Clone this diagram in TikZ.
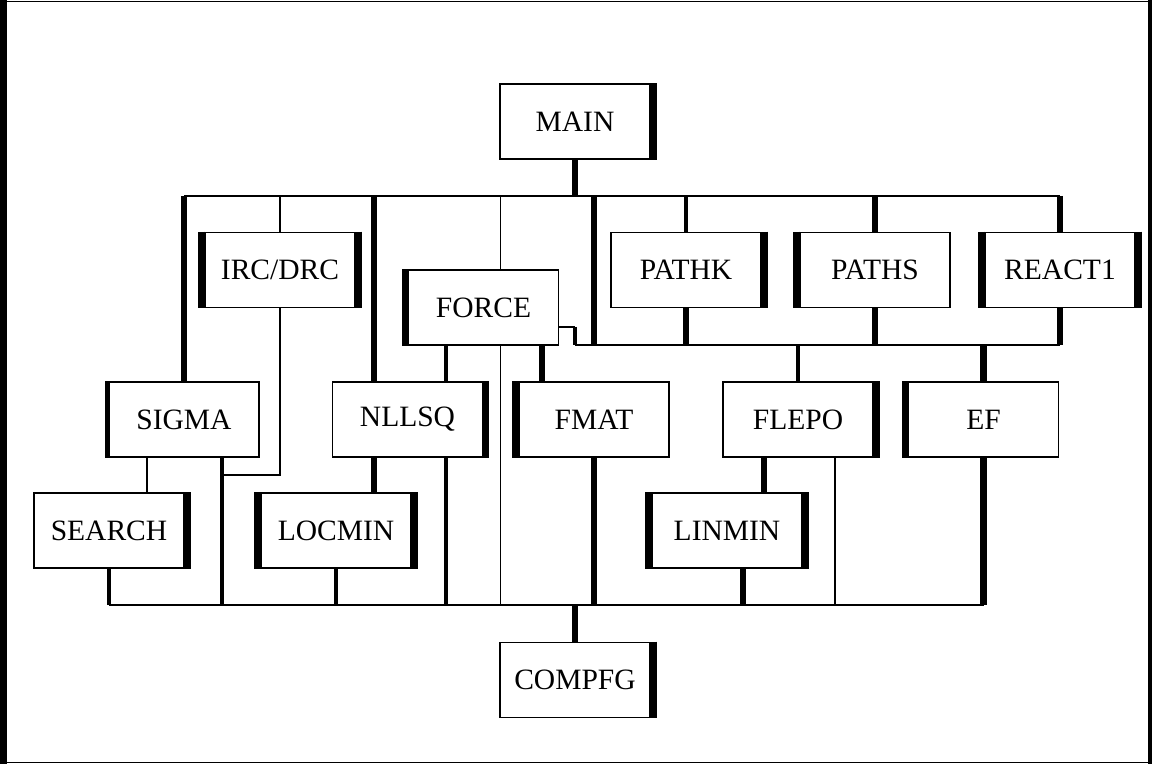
\documentclass[tikz,border=0pt]{standalone}
\usepackage{fontspec}
\setmainfont{Liberation Serif}
\usepackage{tikz}

\begin{document}
\begin{tikzpicture}[
    box/.style={draw, line width=1.1pt, minimum width=3cm, minimum height=1.5cm,
      inner sep=0pt, font=\fontsize{16.8}{18}\selectfont},
    bar/.style={line width=3.6pt},
    link/.style={line width=1.1pt},
    link2/.style={line width=2pt},
    link3/.style={line width=3.6pt}]
  \useasboundingbox (0,0) rectangle (23.12,15.28);

  % frame
  \draw[line width=1.1pt] (0,15.25) -- (23.0,15.25);
  \draw[line width=1.1pt] (0,0.03) -- (23.0,0.03);
  \draw[line width=4pt] (0.07,0) -- (0.07,15.28);
  \draw[line width=2.3pt] (23.0,0) -- (23.0,15.28);

  % routines
  \node[box] (main)   at (11.50,12.85) {MAIN};
  \node[box] (irc)    at (5.60,9.88)   {IRC/DRC};
  \node[box] (force)  at (9.67,9.13)   {FORCE};
  \node[box] (pathk)  at (13.72,9.88)  {PATHK};
  \node[box] (paths)  at (17.50,9.88)  {PATHS};
  \node[box] (react)  at (21.20,9.88)  {REACT1};
  \node[box] (sigma)  at (3.68,6.89)   {SIGMA};
  \node[box] (nllsq)  at (8.15,6.89)   {NLLSQ};
  \node[box] (fmat)   at (11.88,6.89)  {FMAT};
  \node[box] (flepo)  at (15.96,6.89)  {FLEPO};
  \node[box] (ef)     at (19.67,6.89)  {EF};
  \node[box] (search) at (2.18,4.67)   {SEARCH};
  \node[box] (locmin) at (6.72,4.67)   {LOCMIN};
  \node[box] (linmin) at (14.54,4.67)  {LINMIN};
  \node[box] (compfg) at (11.50,1.68)  {COMPFG};

  % heavy sides
  \foreach \n in {main,irc,pathk,react,nllsq,flepo,search,locmin,linmin,compfg}
    \draw[bar] ([xshift=0.05cm]\n.north east) -- ([xshift=0.05cm]\n.south east);
  \foreach \n in {irc,force,paths,react,fmat,ef,locmin,linmin}
    \draw[bar] ([xshift=-0.05cm]\n.north west) -- ([xshift=-0.05cm]\n.south west);
  \draw[link2] ([xshift=-0.03cm]sigma.north west) -- ([xshift=-0.03cm]sigma.south west);

  % bus levels
  \coordinate (tbus) at (11.5,11.36);
  \coordinate (rbus) at (11.5,8.38);
  \coordinate (bbus) at (11.5,3.18);

  % top bus
  \draw[link3] (main.south) -- (main.south |- tbus);
  \draw[link] (sigma.north |- tbus) -- (react.north |- tbus);
  \draw[link3] (sigma.north |- tbus) -- (sigma.north);
  \draw[link] (irc.north |- tbus) -- (irc.north);
  \draw[link3] ([xshift=-0.67cm]nllsq.north |- tbus) -- ([xshift=-0.67cm]nllsq.north);
  \draw[link] ([xshift=0.34cm]force.north |- tbus) -- ([xshift=0.34cm]force.north);
  \draw[link3] (fmat.north |- tbus) -- (fmat.north |- rbus);
  \draw[link2] (pathk.north |- tbus) -- (pathk.north);
  \draw[link3] (paths.north |- tbus) -- (paths.north);
  \draw[link3] (react.north |- tbus) -- (react.north);

  % right bus
  \draw[link] ([yshift=-0.39cm]force.east) -- ([yshift=-0.39cm]force.east -| main.south);
  \draw[link2] ([yshift=-0.39cm]force.east -| main.south) -- (main.south |- rbus);
  \draw[link] (main.south |- rbus) -- (react.south |- rbus);
  \draw[link3] (pathk.south) -- (pathk.south |- rbus);
  \draw[link3] (paths.south) -- (paths.south |- rbus);
  \draw[link3] (react.south) -- (react.south |- rbus);
  \draw[link2] (flepo.north |- rbus) -- (flepo.north);
  \draw[link3] (ef.north |- rbus) -- (ef.north);

  % below FORCE
  \draw[link2] ([xshift=-0.75cm]force.south) -- ([xshift=-0.75cm]force.south |- nllsq.north);
  \draw[link] ([xshift=0.34cm]force.south) -- ([xshift=0.34cm]force.south |- bbus);
  \draw[link3] ([xshift=1.17cm]force.south) -- ([xshift=1.17cm]force.south |- fmat.north);

  % middle row down
  \draw[link] ([xshift=-0.74cm]sigma.south) -- ([xshift=-0.74cm]sigma.south |- search.north);
  \draw[link2] ([xshift=0.76cm]sigma.south) -- ([xshift=0.76cm]sigma.south |- bbus);
  \draw[link] (irc.south) |- ([xshift=0.76cm,yshift=-0.34cm]sigma.south);
  \draw[link3] ([xshift=-0.67cm]nllsq.south) -- ([xshift=-0.67cm]nllsq.south |- locmin.north);
  \draw[link2] ([xshift=0.77cm]nllsq.south) -- ([xshift=0.77cm]nllsq.south |- bbus);
  \draw[link3] (fmat.south) -- (fmat.south |- bbus);
  \draw[link3] ([xshift=-0.68cm]flepo.south) -- ([xshift=-0.68cm]flepo.south |- linmin.north);
  \draw[link] ([xshift=0.74cm]flepo.south) -- ([xshift=0.74cm]flepo.south |- bbus);
  \draw[link3] (ef.south) -- (ef.south |- bbus);

  % bottom bus
  \draw[link2] (search.south) -- (search.south |- bbus);
  \draw[link2] (locmin.south) -- (locmin.south |- bbus);
  \draw[link3] ([xshift=0.32cm]linmin.south) -- ([xshift=0.32cm]linmin.south |- bbus);
  \draw[link] (search.south |- bbus) -- (ef.south |- bbus);
  \draw[link3] (compfg.north |- bbus) -- (compfg.north);
\end{tikzpicture}
\end{document}
